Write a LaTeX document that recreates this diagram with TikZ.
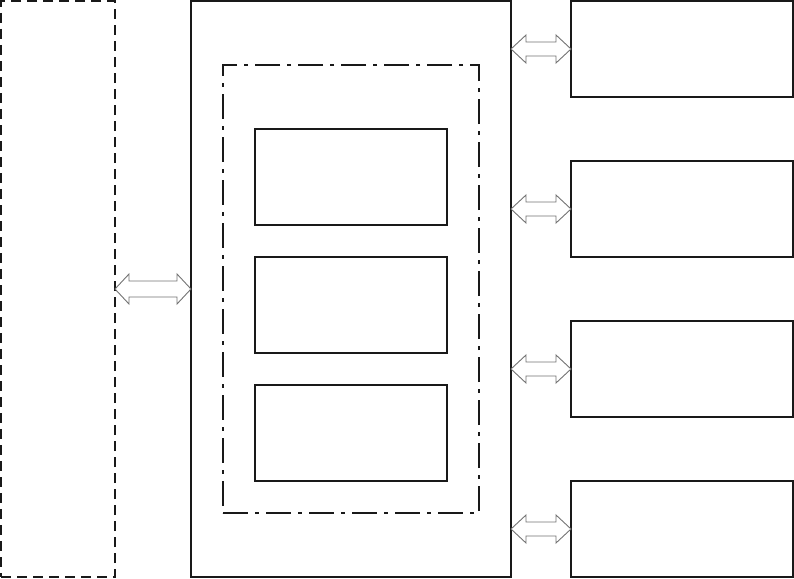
\documentclass[tikz,border=0pt]{standalone}
\usetikzlibrary{calc}
\tikzset{
  box/.style={draw=black!90, line width=1.4pt, fill=none, inner sep=0pt, outer sep=0pt},
  dashbox/.style={box, line width=1.9pt, dash pattern=on 10pt off 6pt},
  dashdotbox/.style={box, line width=1.4pt, dash pattern=on 25pt off 7pt on 4pt off 7pt},
  arr/.style={draw=black!55, line width=0.9pt, fill=white, line join=miter},
}
% double hollow arrow from #1 to #2 (horizontal), head length #3, shaft half #4, head half #5
\newcommand\dbarrow[5]{%
  \draw[arr] (#1) -- ($(#1)+(#3,#5)$) -- ($(#1)+(#3,#4)$) -- ($(#2)+(-#3,#4)$) -- ($(#2)+(-#3,#5)$) -- (#2)
    -- ($(#2)+(-#3,-#5)$) -- ($(#2)+(-#3,-#4)$) -- ($(#1)+(#3,-#4)$) -- ($(#1)+(#3,-#5)$) -- cycle;}
\begin{document}
\begin{tikzpicture}[x=1pt,y=-1pt]
\useasboundingbox (0,0) rectangle (794,578);
\node[dashbox, minimum width=114pt, minimum height=576pt] (L) at (58,289) {};
\node[box, minimum width=320pt, minimum height=576pt] (M) at (351,289) {};
\node[dashdotbox, minimum width=256pt, minimum height=448pt] (D) at (351,289) {};
\node[box, minimum width=192pt, minimum height=96pt] (I1) at (351,177) {};
\node[box, minimum width=192pt, minimum height=96pt] (I2) at (351,305) {};
\node[box, minimum width=192pt, minimum height=96pt] (I3) at (351,433) {};
\node[box, minimum width=222pt, minimum height=96pt] (R1) at (682,49) {};
\node[box, minimum width=222pt, minimum height=96pt] (R2) at (682,209) {};
\node[box, minimum width=222pt, minimum height=96pt] (R3) at (682,369) {};
\node[box, minimum width=222pt, minimum height=96pt] (R4) at (682,529) {};
\coordinate (a0) at (L.east);
\coordinate (b0) at (M.west);
\dbarrow{a0}{b0}{14}{8}{15}
\foreach \i in {1,2,3,4}{
  \coordinate (a\i) at (M.east |- R\i.west);
  \coordinate (b\i) at (R\i.west);
  \dbarrow{a\i}{b\i}{15}{7}{14}
}
\end{tikzpicture}
\end{document}
